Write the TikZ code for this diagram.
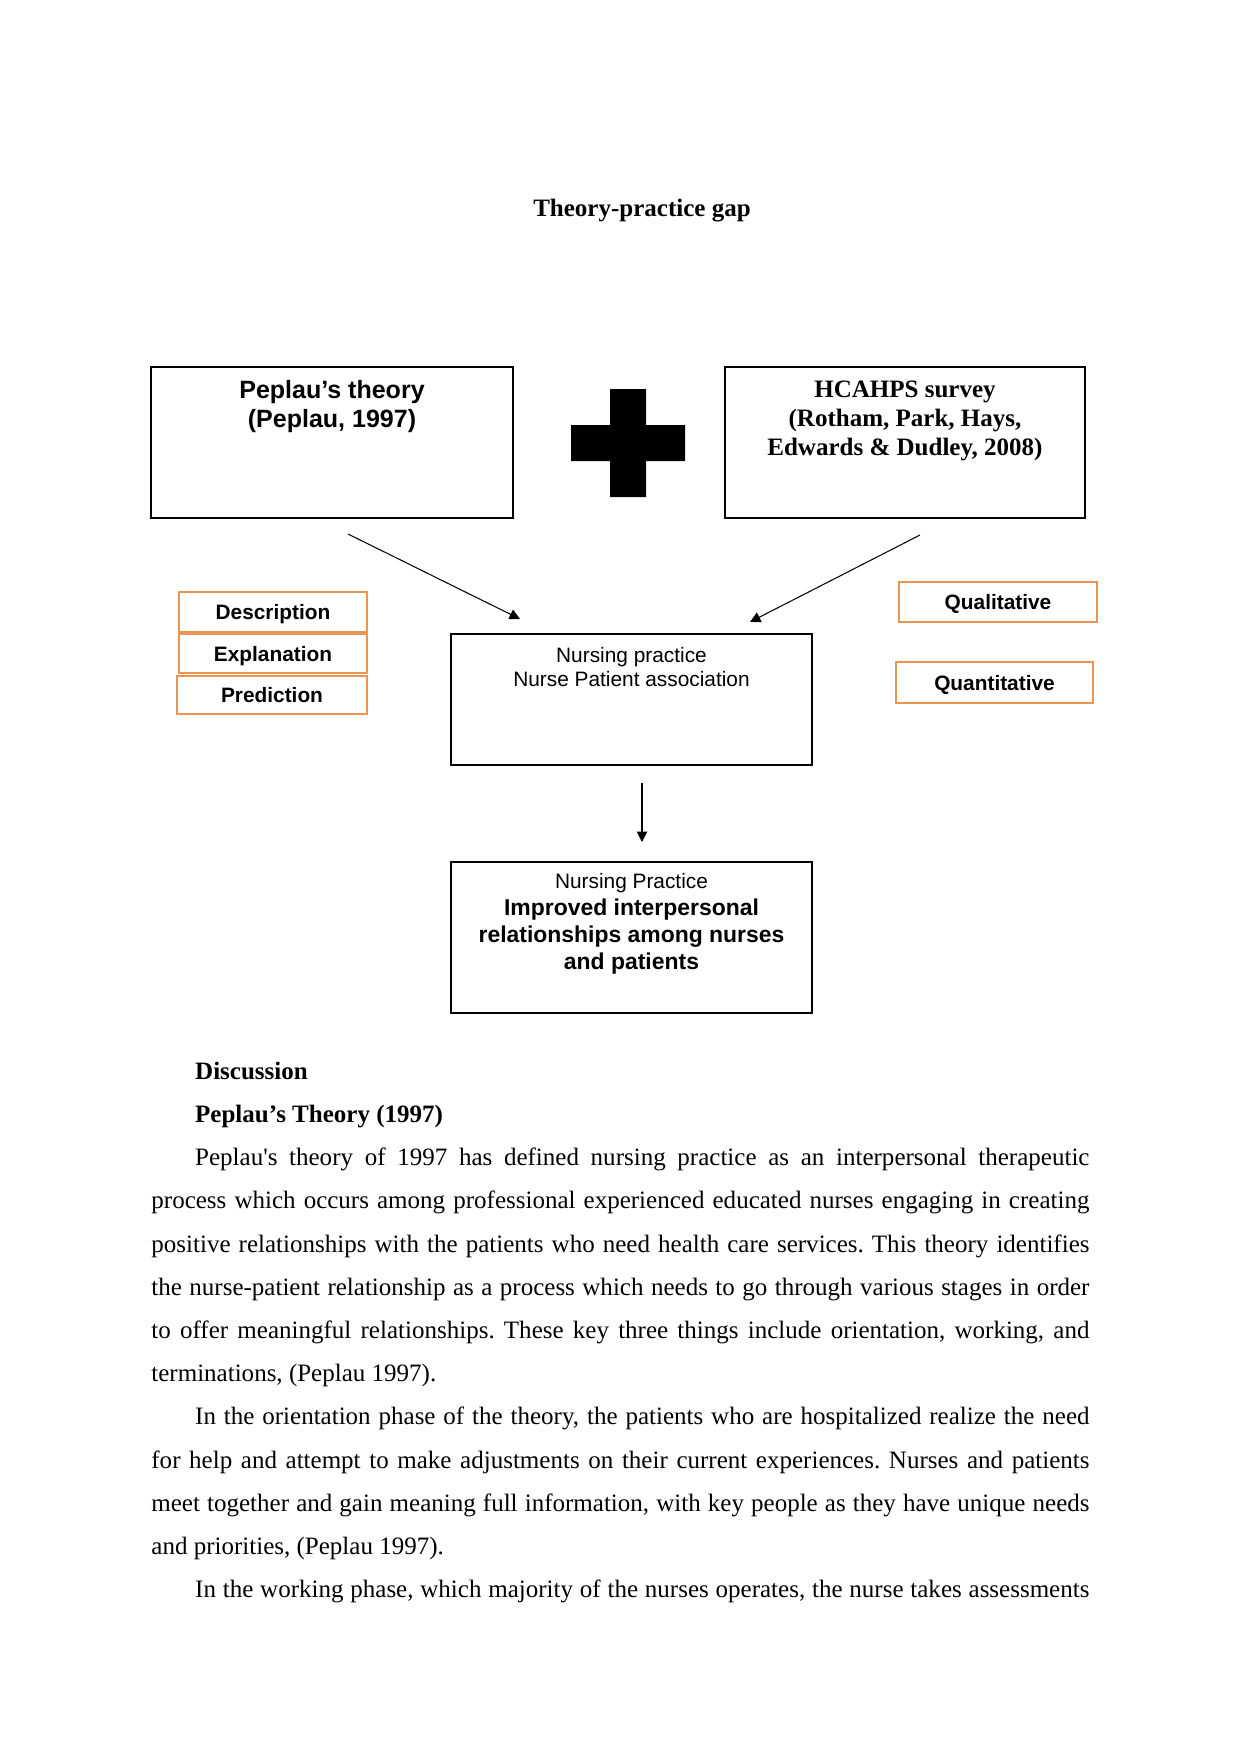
\documentclass[tikz,border=0pt]{standalone}
\usepackage{fontspec}
\setmainfont{Liberation Serif}
\setsansfont{Liberation Sans}
\usetikzlibrary{arrows.meta}
\definecolor{boxorange}{RGB}{236,148,82}
\begin{document}
\begin{tikzpicture}[x=0.4797pt,y=-0.4797pt,
  blackbox/.style={draw=black,line width=1pt,inner sep=0pt,rectangle},
  orangebox/.style={draw=boxorange,line width=1.1pt,inner sep=0pt,rectangle,
    text height=7.4pt,text depth=0pt,
    font=\sffamily\bfseries\fontsize{10}{12}\selectfont},
  conn/.style={line width=0.5pt,-{Triangle[length=5pt,width=5pt]}},
  txt/.style={anchor=base,inner sep=0pt},
]
\useasboundingbox[fill=white] (0,0) rectangle (1241,1754);

% title
\node[txt,font=\rmfamily\bfseries\fontsize{12}{13.8}\selectfont] (title) at (642,216) {Theory-practice gap};

% top boxes
\node[blackbox,minimum width=362*0.4797pt,minimum height=151*0.4797pt] (peplau) at (332,442.5) {};
\node[txt,font=\sffamily\bfseries\fontsize{12}{14}\selectfont] (peplautext) at (332,398.5)
  {\parbox[t]{330pt}{\centering Peplau’s theory\\(Peplau, 1997)}};

\node[blackbox,minimum width=360*0.4797pt,minimum height=151*0.4797pt] (hcahps) at (905,442.5) {};
\node[txt,font=\rmfamily\bfseries\fontsize{12}{14}\selectfont] (hcahpstext) at (905,397.5)
  {\parbox[t]{330pt}{\centering HCAHPS survey\\(Rotham, Park, Hays,\\Edwards \& Dudley, 2008)}};

% plus sign
\fill[black] (610,389) -- (646,389) -- (646,425) -- (685,425) -- (685,461) -- (646,461)
  -- (646,497) -- (610,497) -- (610,461) -- (571,461) -- (571,425) -- (610,425) -- cycle;

% orange boxes
\node[orangebox,minimum width=188*0.4797pt,minimum height=40*0.4797pt] (desc) at (273,612) {Description};
\node[orangebox,minimum width=188*0.4797pt,minimum height=39*0.4797pt] (expl) at (273,653.5) {Explanation};
\node[orangebox,minimum width=190*0.4797pt,minimum height=38*0.4797pt] (pred) at (272,695) {Prediction};
\node[orangebox,minimum width=198*0.4797pt,minimum height=40*0.4797pt] (qual) at (998,602) {Qualitative};
\node[orangebox,minimum width=197*0.4797pt,minimum height=41*0.4797pt] (quant) at (994.5,682.5) {Quantitative};

% middle box
\node[blackbox,minimum width=361*0.4797pt,minimum height=131*0.4797pt] (practice) at (631.5,699.5) {};
\node[txt,font=\sffamily\fontsize{10}{11.8}\selectfont] (practicetext) at (631.5,662.2)
  {\parbox[t]{330pt}{\centering Nursing practice\\Nurse Patient association}};

% bottom box
\node[blackbox,minimum width=361*0.4797pt,minimum height=151*0.4797pt] (outcome) at (631.5,937.5) {};
\node[txt] (outcometext) at (631.5,888.2)
  {\parbox[t]{330pt}{\centering\sffamily\fontsize{10}{12}\selectfont Nursing Practice\par
   \fontsize{11}{12.95}\selectfont\bfseries Improved interpersonal\\relationships among nurses\\and patients\par}};

% connectors
\coordinate (a1s) at (348,534);
\coordinate (a1e) at (520,619);
\coordinate (a2s) at (920,535);
\coordinate (a2e) at (750,622);
\coordinate (a3s) at (642,783);
\coordinate (a3e) at (642,842);
\draw[conn] (a1s) -- (a1e);
\draw[conn] (a2s) -- (a2e);
\draw[conn] (a3s) -- (a3e);

% body text
\node[anchor=base west,inner sep=0pt] (body) at (151,1079.4)
  {\parbox[t]{450pt}{\rmfamily\fontsize{12}{20.72}\selectfont\frenchspacing
   \setlength{\parindent}{21pt}\setlength{\parskip}{0pt}%
   \tolerance=10000 \hyphenpenalty=10000 \emergencystretch=20pt
   \textbf{Discussion}\par
   \textbf{Peplau’s Theory (1997)}\par
   Peplau\textquotesingle s theory of 1997 has defined nursing practice as an interpersonal therapeutic\linebreak
   process which occurs among professional experienced educated nurses engaging in creating\linebreak
   positive relationships with the patients who need health care services. This theory identifies\linebreak
   the nurse-patient relationship as a process which needs to go through various stages in order\linebreak
   to offer meaningful relationships. These key three things include orientation, working, and\linebreak
   terminations, (Peplau 1997).\par
   In the orientation phase of the theory, the patients who are hospitalized realize the need\linebreak
   for help and attempt to make adjustments on their current experiences. Nurses and patients\linebreak
   meet together and gain meaning full information, with key people as they have unique needs\linebreak
   and priorities, (Peplau 1997).\par
   {\parfillskip=0pt In the working phase, which majority of the nurses operates, the nurse takes assessments\par}}};
\end{tikzpicture}
\end{document}
